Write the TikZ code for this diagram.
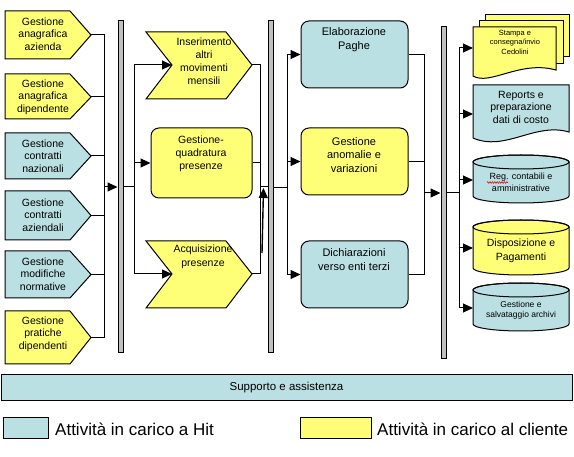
\documentclass[tikz,border=0pt]{standalone}
\usepackage{fontspec}
\setmainfont{Liberation Sans}
\usetikzlibrary{arrows.meta,decorations.pathmorphing}
\definecolor{hit}{RGB}{187,224,227}
\definecolor{cli}{RGB}{255,255,119}
\definecolor{barg}{RGB}{192,192,192}
\newcommand\myfs[2]{\fontsize{#1}{#2}\selectfont}
\tikzset{
  hitbox/.style={fill=hit, draw=black, line width=1pt},
  clibox/.style={fill=cli, draw=black, line width=1pt},
  lbl/.style={align=center, inner sep=0pt, font=\myfs{10.5}{12.5}},
  conn/.style={line width=1pt},
  arr/.style={conn, -{Triangle[length=10pt,width=9pt]}},
  barnode/.style={fill=barg, draw=black, line width=1pt, minimum width=5pt, minimum height=332pt, inner sep=0pt},
  rbox/.style={rounded corners=8pt, minimum width=107pt, minimum height=67pt, inner sep=0pt},
}
\begin{document}
\begin{tikzpicture}[x=1pt,y=-1pt]
\useasboundingbox (0,0) rectangle (574,457);

% ---------- column 1 : pentagons ----------
\filldraw[clibox] (5,11) -- (70,11) -- (91,35) -- (70,59) -- (5,59) -- cycle;
\filldraw[clibox] (5,74) -- (70,74) -- (91,97) -- (70,119) -- (5,119) -- cycle;
\filldraw[hitbox] (5,133) -- (70,133) -- (91,156) -- (70,179) -- (5,179) -- cycle;
\filldraw[hitbox] (5,191) -- (70,191) -- (91,215.5) -- (70,240) -- (5,240) -- cycle;
\filldraw[hitbox] (5,251) -- (70,251) -- (91,274.5) -- (70,298) -- (5,298) -- cycle;
\filldraw[clibox] (5,311) -- (70,311) -- (91,337.5) -- (70,364) -- (5,364) -- cycle;
\node[lbl] (p1) at (43,34) {Gestione\\anagrafica\\azienda};
\node[lbl] (p2) at (43,97) {Gestione\\anagrafica\\dipendente};
\node[lbl] (p3) at (43,156) {Gestione\\contratti\\nazionali};
\node[lbl] (p4) at (43,215) {Gestione\\contratti\\aziendali};
\node[lbl] (p5) at (43,274) {Gestione\\modifiche\\normative};
\node[lbl] (p6) at (43,334) {Gestione\\pratiche\\dipendenti};
\coordinate (p1t) at (91,35);
\coordinate (p2t) at (91,97);
\coordinate (p3t) at (91,156);
\coordinate (p4t) at (91,215.5);
\coordinate (p5t) at (91,274.5);
\coordinate (p6t) at (91,337.5);

% ---------- bars ----------
\node[barnode] (bar1) at (120.5,187) {};
\node[barnode, minimum width=4.6pt] (bar2) at (271,187) {};
\node[barnode] (bar3) at (443.5,193) {};

% ---------- column 2 ----------
\filldraw[clibox] (146,32) -- (226,32) -- (252,65) -- (226,99) -- (146,99) -- (172,65) -- cycle;
\filldraw[clibox] (146,241) -- (226,241) -- (252,274) -- (226,308) -- (146,308) -- (172,274) -- cycle;
\node[rbox, clibox, minimum width=101pt, minimum height=70pt] (c2) at (201.5,163) {};
\coordinate (c1n) at (172,65);
\coordinate (c1t) at (252,65);
\coordinate (c3n) at (172,274);
\coordinate (c3t) at (252,274);
\node[lbl, font=\myfs{10.5}{13}] (c1) at (204,61) {Inserimento\\altri\\movimenti\\mensili};
\node[lbl, font=\myfs{10.5}{13}] (c2l) at (201,154) {Gestione-\\quadratura\\presenze};
\node[lbl, font=\myfs{10.5}{14}] (c3) at (203,257) {Acquisizione\\presenze};

% ---------- column 3 ----------
\node[rbox, hitbox] (e1) at (354.5,54.5) {};
\node[rbox, clibox] (e2) at (354.5,161.5) {};
\node[rbox, hitbox] (e3) at (354.5,274.5) {};
\node[lbl, font=\myfs{11}{14}] (e1l) at (354,40) {Elaborazione\\Paghe};
\node[lbl, font=\myfs{11}{13.5}] (e2l) at (354,155) {Gestione\\anomalie e\\variazioni};
\node[lbl, font=\myfs{11}{14}] (e3l) at (354,260) {Dichiarazioni\\verso enti terzi};

% ---------- column 4 : outputs ----------
\filldraw[clibox] (485,15) rectangle (569,57);
\filldraw[clibox] (479,21) rectangle (563,64);
\filldraw[clibox] (473,27) -- (556,27) -- (556,70) .. controls (520,60) and (490,86) .. (473,76) -- cycle;
\node[lbl, font=\myfs{7.5}{9.5}] (d1l) at (515,42) {Stampa e\\consegna/invio\\Cedolini};
\coordinate (d1) at (473,48);

\filldraw[hitbox] (473,85) -- (569,85) -- (569,132) .. controls (535,122) and (505,152) .. (473,138) -- cycle;
\node[lbl, font=\myfs{10.5}{12.5}] (d2l) at (521,107) {Reports e\\preparazione\\dati di costo};
\coordinate (d2) at (473,114);

\filldraw[hitbox] (473,162) -- (473,196) arc[start angle=180,end angle=360,x radius=48pt,y radius=7pt] -- (569,162) arc[start angle=0,end angle=180,x radius=48pt,y radius=7pt] -- cycle;
\draw[line width=1pt] (521,162) ellipse [x radius=48pt, y radius=7pt];
\node[lbl, font=\myfs{9}{12}] (d3l) at (521,182) {Reg. contabili e\\amministrative};
\draw[red, line width=0.6pt, decorate, decoration={zigzag, amplitude=0.8pt, segment length=2.4pt}] (487,182.5) -- (508,182.5);
\coordinate (d3) at (473,180);

\filldraw[clibox] (473,227) -- (473,268) arc[start angle=180,end angle=360,x radius=48pt,y radius=7pt] -- (569,227) arc[start angle=0,end angle=180,x radius=48pt,y radius=7pt] -- cycle;
\draw[line width=1pt] (521,227) ellipse [x radius=48pt, y radius=7pt];
\node[lbl, font=\myfs{10.5}{14}] (d4l) at (521,251) {Disposizione e\\Pagamenti};
\coordinate (d4) at (473,248);

\filldraw[hitbox] (473,290) -- (473,324) arc[start angle=180,end angle=360,x radius=48pt,y radius=7pt] -- (569,290) arc[start angle=0,end angle=180,x radius=48pt,y radius=7pt] -- cycle;
\draw[line width=1pt] (521,290) ellipse [x radius=48pt, y radius=7pt];
\node[lbl, font=\myfs{8.5}{10.5}] (d5l) at (521,310.5) {Gestione e\\salvataggio archivi};
\coordinate (d5) at (473,308);

% ---------- connectors ----------
\coordinate (j1) at (104,187);
\foreach \p in {p1t,p2t,p3t,p4t,p5t,p6t} \draw[conn] (\p) -| (j1);
\draw[arr] (j1) -- (bar1.west |- j1);

\coordinate (j2) at (134,187);
\draw[conn] (bar1.east |- j2) -- (j2);
\draw[arr] (j2) |- (c1n);
\draw[arr] (j2) |- (c2.west);
\draw[arr] (j2) |- (c3n);

\coordinate (j3) at (260,187);
\draw[conn] (c1t) -| (j3);
\draw[conn] (c2.east) -| (j3);
\draw[conn] (c3t) -| (j3);
\draw[conn] (j3) -- (bar2.west |- j3);
\coordinate (k1) at (262,253);
\coordinate (k2) at (263.5,188);
\draw[arr, line width=1.4pt] (k1) -- (k2);

\coordinate (j4) at (287,188);
\draw[conn] (bar2.east |- j4) -- (j4);
\draw[arr] (j4) |- (e1.west);
\draw[arr] (j4) |- (e2.west);
\draw[arr] (j4) |- (e3.west);

\coordinate (j5) at (424,193);
\draw[conn] (e1.east) -| (j5);
\draw[conn] (e2.east) -| (j5);
\draw[conn] (e3.east) -| (j5);
\draw[arr] (j5) -- (bar3.west |- j5);

\coordinate (j6) at (459,193);
\draw[conn] (bar3.east |- j6) -- (j6);
\foreach \d in {d1,d2,d3,d4,d5} \draw[arr] (j6) |- (\d);

% ---------- support bar and legend ----------
\node[hitbox, minimum width=571pt, minimum height=26pt, inner sep=0pt, font=\myfs{11.5}{13}] (sup) at (286.5,388) {Supporto e assistenza};
\node[hitbox, minimum width=45pt, minimum height=21pt, inner sep=0pt] (lg1) at (25.5,428.5) {};
\node[anchor=west, inner sep=0pt, font=\myfs{17}{19}] (lt1) at (55,429.5) {Attività in carico a Hit};
\node[clibox, minimum width=71pt, minimum height=21pt, inner sep=0pt] (lg2) at (335.5,428.5) {};
\node[anchor=west, inner sep=0pt, font=\myfs{17}{19}] (lt2) at (377,429.5) {Attività in carico al cliente};
\end{tikzpicture}
\end{document}
